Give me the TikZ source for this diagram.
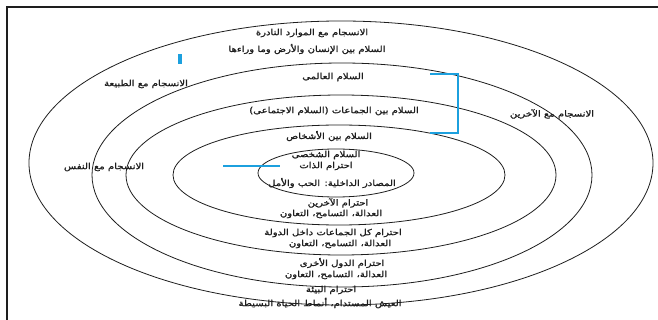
\documentclass[tikz,border=0pt]{standalone}
\usepackage{fontspec}
\newfontfamily\arfont[Script=Arabic,FakeBold=1.3]{DejaVu Sans}
\TeXXeTstate=1
\newcommand{\artxt}[1]{\scalebox{1.2}[1]{\beginR #1\endR}}
\definecolor{bluemk}{RGB}{28,160,222}
\definecolor{inkc}{RGB}{30,30,30}
\begin{document}
\begin{tikzpicture}[x=1pt,y=-1pt,
  lbl/.style={font=\arfont\fontsize{8.4}{9}\selectfont, inner sep=0pt, text=inkc},
  ring/.style={draw=inkc, line width=0.8pt},
  framel/.style={draw=inkc, line width=1.4pt},
  bluebar/.style={draw=bluemk, line width=2.8pt}]
\useasboundingbox (0,0) rectangle (658,320);
\fill[white] (0,0) rectangle (658,320);
% frame
\coordinate (fr1) at (7,320);
\coordinate (fr2) at (7,7);
\coordinate (fr3) at (658,7);
\draw[framel] (fr1) -- (fr2) -- (fr3);
% ellipses
\draw[ring] (341,163) ellipse [x radius=312, y radius=142];
\draw[ring] (342,175) ellipse [x radius=250, y radius=112];
\draw[ring] (341,175) ellipse [x radius=215, y radius=80];
\draw[ring] (339,175) ellipse [x radius=166, y radius=50];
\draw[ring] (336,173) ellipse [x radius=78, y radius=24];
% blue marks
\fill[bluemk] (178,54) rectangle (181.5,64);
\coordinate (bh1) at (223,166);
\coordinate (bh2) at (280,166);
\draw[draw=bluemk, line width=2pt] (bh1) -- (bh2);
\coordinate (bk1) at (430,74);
\coordinate (bk2) at (458,74);
\coordinate (bk3) at (458,133);
\coordinate (bk4) at (430,133);
\draw[bluebar] (bk1) -- (bk2) -- (bk3) -- (bk4);
% texts
\node[lbl] (t1) at (312,33) {\artxt{الانسجام مع الموارد النادرة}};
\node[lbl] (t2) at (307,49) {\artxt{السلام بين الإنسان والأرض وما وراءها}};
\node[lbl] (t3) at (146,84) {\artxt{الانسجام مع الطبيعة}};
\node[lbl] (t4) at (333,77) {\artxt{السلام العالمى}};
\node[lbl] (t5) at (334,111) {\artxt{السلام بين الجماعات (السلام الاجتماعى)}};
\node[lbl] (t6) at (329,136) {\artxt{السلام بين الأشخاص}};
\node[lbl] (t7) at (326,155) {\artxt{السلام الشخصى}};
\node[lbl] (t8) at (326,166) {\artxt{احترام الذات}};
\node[lbl] (t9) at (332,183) {\artxt{المصادر الداخلية: الحب والأمل}};
\node[lbl] (t10) at (338,203) {\artxt{احترام الآخرين}};
\node[lbl] (t11) at (331,214) {\artxt{العدالة، التسامح، التعاون}};
\node[lbl] (t12) at (333,233) {\artxt{احترام كل الجماعات داخل الدولة}};
\node[lbl] (t13) at (340,244) {\artxt{العدالة، التسامح، التعاون}};
\node[lbl] (t14) at (342,263) {\artxt{احترام الدول الأخرى}};
\node[lbl] (t15) at (336,275) {\artxt{العدالة، التسامح، التعاون}};
\node[lbl] (t16) at (331,290) {\artxt{احترام البيئة}};
\node[lbl] (t17) at (320,303) {\artxt{العيش المستدام، أنماط الحياة البسيطة}};
\node[lbl] (t18) at (552,114) {\artxt{الانسجام مع الآخرين}};
\node[lbl] (t19) at (104,167) {\artxt{الانسجام مع النفس}};
\end{tikzpicture}
\end{document}
